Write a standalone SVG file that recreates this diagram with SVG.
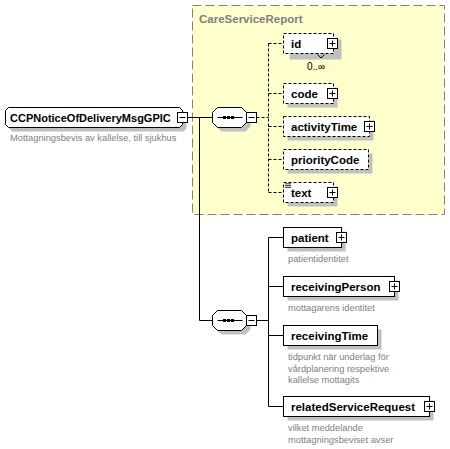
<svg xmlns="http://www.w3.org/2000/svg" width="450" height="449" viewBox="0 0 450 449">
<defs>
<style>
.name{font-family:"Liberation Sans",Arial,sans-serif;font-weight:bold;font-size:11.5px;fill:#000}
.rootname{font-family:"Liberation Sans",Arial,sans-serif;font-weight:bold;font-size:11px;fill:#000}
.grp{font-family:"Liberation Sans",Arial,sans-serif;font-weight:bold;font-size:11.5px;fill:#808080}
.desc{font-family:"Liberation Sans",Arial,sans-serif;font-size:9.3px;fill:#808080}
.occ{font-family:"Liberation Sans",Arial,sans-serif;font-size:10px;fill:#000}
.box{fill:#fff;stroke:#000;stroke-width:1}
.opt{fill:#fff;stroke:#000;stroke-width:1;stroke-dasharray:3,2}
.shadow{fill:#c0c0c0}
.btn{fill:#fff;stroke:#000;stroke-width:1}
.sign{fill:none;stroke:#000;stroke-width:1}
.conn{fill:none;stroke:#000;stroke-width:1}
.dconn{fill:none;stroke:#000;stroke-width:1;stroke-dasharray:3,2}
</style>
<g id="plusbtn"><rect x="0" y="0" width="10" height="10" class="btn"/><path d="M2,5H8M5,2V8" class="sign"/></g>
<g id="minusbtn"><rect x="0" y="0" width="10" height="10" class="btn"/><path d="M2,5H8" class="sign"/></g>
<g id="seqshape">
<path class="shadow" d="M9,4H33L38,9V19L33,24H9L4,19V9Z"/>
<path class="box" d="M5,0H29L34,5V15L29,20H5L0,15V5Z"/>
<path class="sign" d="M5,10H30"/>
<rect x="10.5" y="8.5" width="3" height="3" fill="#000"/>
<rect x="14.5" y="8.5" width="3" height="3" fill="#000"/>
<rect x="18.5" y="8.5" width="3" height="3" fill="#000"/>
<use href="#minusbtn" x="34" y="5"/>
</g>
</defs>

<g id="CareServiceReport">
<rect x="192.5" y="5.5" width="252" height="209" fill="#ffffcc" stroke="#808080" stroke-width="1" stroke-dasharray="9,4"/>
<text class="grp" x="199" y="22.5">CareServiceReport</text>
</g>

<g id="connectors">
<path class="conn" d="M187.5,117.5H212.5M199.5,117.5V320.5H212.5"/>
<path class="dconn" d="M256.5,117.5H268.5M268.5,43.5V192.5M268.5,43.5H283.5M268.5,93.5H283.5M268.5,126.5H283.5M268.5,159.5H283.5M268.5,192.5H283.5"/>
<path class="conn" d="M256.5,320.5H268.5M268.5,237.5V406.5M268.5,237.5H283.5M268.5,286.5H283.5M268.5,335.5H283.5M268.5,406.5H283.5"/>
</g>

<g id="root">
<path class="shadow" d="M12.5,111.5H183.5L186.5,114.5V128.5L183.5,131.5H12.5L9.5,128.5V114.5Z"/>
<path class="box" d="M8.5,107.5H179.5L182.5,110.5V124.5L179.5,127.5H8.5L5.5,124.5V110.5Z"/>
<text class="rootname" x="10" y="121.5">CCPNoticeOfDeliveryMsgGPIC</text>
<use href="#minusbtn" x="177.5" y="112.5"/>
<text class="desc" x="10" y="141">Mottagningsbevis av kallelse, till sjukhus</text>
</g>

<g id="seq1"><use href="#seqshape" x="212.5" y="107.5"/></g>
<g id="seq2"><use href="#seqshape" x="212.5" y="310.5"/></g>

<g id="id">
<rect class="shadow" x="289.5" y="39.5" width="52" height="20"/>
<rect class="opt" x="283.5" y="33.5" width="50" height="20"/>
<path class="sign" d="M317.5,54.5L321,58L324.5,54.5"/>
<text class="name" x="291" y="47.5">id</text>
<use href="#plusbtn" x="327.5" y="38.5"/>
<text class="occ" x="307" y="70">0..∞</text>
</g>

<g id="code">
<rect class="shadow" x="287.5" y="87.5" width="50" height="20"/>
<rect class="opt" x="283.5" y="83.5" width="50" height="20"/>
<text class="name" x="291" y="97.5">code</text>
<use href="#plusbtn" x="327.5" y="88.5"/>
</g>

<g id="activityTime">
<rect class="shadow" x="287.5" y="120.5" width="86" height="20"/>
<rect class="opt" x="283.5" y="116.5" width="86" height="20"/>
<text class="name" x="291" y="130.5">activityTime</text>
<use href="#plusbtn" x="364.5" y="121.5"/>
</g>

<g id="priorityCode">
<rect class="shadow" x="287.5" y="153.5" width="85" height="20"/>
<rect class="opt" x="283.5" y="149.5" width="85" height="20"/>
<text class="name" x="291" y="163.5">priorityCode</text>
</g>

<g id="text">
<rect class="shadow" x="287.5" y="186.5" width="50" height="20"/>
<rect class="opt" x="283.5" y="182.5" width="50" height="20"/>
<path d="M285,183.8H291M285,185.6H291M285,187.4H291" stroke="#000" stroke-width="0.8"/>
<text class="name" x="291" y="196.5">text</text>
<use href="#plusbtn" x="327.5" y="187.5"/>
</g>

<g id="patient">
<rect class="shadow" x="287.5" y="231.5" width="58" height="20"/>
<rect class="box" x="283.5" y="227.5" width="58" height="20"/>
<text class="name" x="291" y="241.5">patient</text>
<use href="#plusbtn" x="336.5" y="232.5"/>
<text class="desc" x="288" y="262">patientidentitet</text>
</g>

<g id="receivingPerson">
<rect class="shadow" x="287.5" y="280.5" width="111" height="20"/>
<rect class="box" x="283.5" y="276.5" width="111" height="20"/>
<text class="name" x="291" y="290.5">receivingPerson</text>
<use href="#plusbtn" x="389.5" y="281.5"/>
<text class="desc" x="288" y="311">mottagarens identitet</text>
</g>

<g id="receivingTime">
<rect class="shadow" x="287.5" y="329.5" width="94" height="20"/>
<rect class="box" x="283.5" y="325.5" width="94" height="20"/>
<text class="name" x="291" y="339.5">receivingTime</text>
<text class="desc" x="288" y="360">tidpunkt när underlag för</text>
<text class="desc" x="288" y="371.5">vårdplanering respektive</text>
<text class="desc" x="288" y="383">kallelse mottagits</text>
</g>

<g id="relatedServiceRequest">
<rect class="shadow" x="287.5" y="400.5" width="146" height="20"/>
<rect class="box" x="283.5" y="396.5" width="146" height="20"/>
<text class="name" x="291" y="410.5">relatedServiceRequest</text>
<use href="#plusbtn" x="424.5" y="401.5"/>
<text class="desc" x="288" y="431">vilket meddelande</text>
<text class="desc" x="288" y="442.5">mottagningsbeviset avser</text>
</g>
</svg>
